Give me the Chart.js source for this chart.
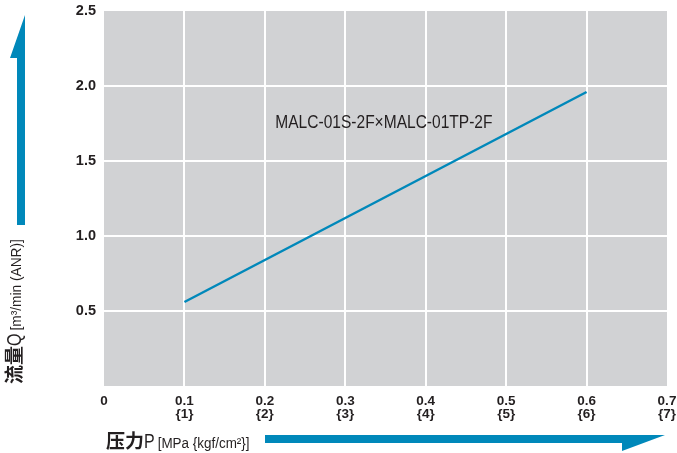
<!DOCTYPE html>
<html>
<head>
<meta charset="utf-8">
<script src="https://cdn.jsdelivr.net/npm/chart.js@4/dist/chart.umd.min.js"></script>
<style>
  html, body { margin: 0; padding: 0; background: #ffffff; }
  #wrap { position: relative; width: 677px; height: 453px; }
</style>
</head>
<body>
<div id="wrap"><canvas id="flowChart" width="677" height="453"></canvas></div>
<script>
const pressure = [0.1, 0.2, 0.3, 0.4, 0.5, 0.6];
const flow = [0.56, 0.84, 1.12, 1.40, 1.68, 1.96];
const seriesName = "MALC-01S-2F×MALC-01TP-2F";
const xTickLabels = ["0", "0.1|{1}", "0.2|{2}", "0.3|{3}", "0.4|{4}", "0.5|{5}", "0.6|{6}", "0.7|{7}"];
const yTickLabels = ["", "0.5", "1.0", "1.5", "2.0", "2.5"];

const blue = "#0088ba";
const textFont = "'Liberation Sans', Arial, sans-serif";
const cjkFont = "'Noto Sans CJK SC', sans-serif";

// draw text squeezed horizontally (condensed look)
function narrowText(ctx, str, x, y, sx) {
  ctx.save();
  ctx.translate(x, y);
  ctx.scale(sx, 1);
  ctx.fillText(str, 0, 0);
  ctx.restore();
  return ctx.measureText(str).width * sx;
}

// keep the plot box fixed: ignore label overhang
function noOverhang(scale) {
  scale.paddingTop = 0;
  scale.paddingBottom = 0;
  scale.paddingLeft = 0;
  scale.paddingRight = 0;
}

// gray plot background, arrows, axis titles and series label
const decorPlugin = {
  id: "decor",
  beforeDraw(chart) {
    const { ctx, chartArea: a } = chart;
    ctx.save();
    ctx.fillStyle = "#d1d2d4";
    ctx.fillRect(a.left, a.top, a.right - a.left, a.bottom - a.top);
    ctx.restore();
  },
  afterDraw(chart) {
    const { ctx } = chart;
    ctx.save();
    ctx.fillStyle = blue;

    // vertical arrow
    ctx.beginPath();
    ctx.moveTo(17, 225);
    ctx.lineTo(25, 225);
    ctx.lineTo(25, 15);
    ctx.lineTo(10, 58);
    ctx.lineTo(17, 58);
    ctx.closePath();
    ctx.fill();

    // horizontal arrow
    ctx.beginPath();
    ctx.moveTo(265, 435);
    ctx.lineTo(665, 435);
    ctx.lineTo(622, 451);
    ctx.lineTo(622, 443);
    ctx.lineTo(265, 443);
    ctx.closePath();
    ctx.fill();

    ctx.fillStyle = "#231f20";
    ctx.textBaseline = "alphabetic";
    ctx.textAlign = "left";

    // x title
    let x = 106;
    ctx.font = "bold 19px " + cjkFont;
    ctx.fillText("压力", x, 448);
    x += ctx.measureText("压力").width;
    ctx.font = "20px " + textFont;
    x += narrowText(ctx, "P", x, 448, 0.8);
    ctx.font = "14px " + textFont;
    narrowText(ctx, "[MPa {kgf/cm²}]", x + 3, 448, 0.96);

    // y title
    ctx.translate(21, 384);
    ctx.rotate(-Math.PI / 2);
    x = 0;
    ctx.font = "bold 19px " + cjkFont;
    ctx.fillText("流量", x, 0);
    x += ctx.measureText("流量").width;
    ctx.font = "20px " + textFont;
    x += narrowText(ctx, "Q", x, 0, 0.8);
    ctx.font = "14px " + textFont;
    narrowText(ctx, "[m³/min (ANR)]", x + 3, 0, 0.98);
    ctx.setTransform(1, 0, 0, 1, 0, 0);

    // series label
    const xs = chart.scales.x, ys = chart.scales.y;
    ctx.font = "18.5px " + textFont;
    narrowText(ctx, seriesName, xs.getPixelForValue(0.213), ys.getPixelForValue(1.718), 0.84);
    ctx.restore();
  }
};

new Chart(document.getElementById("flowChart"), {
  type: "line",
  data: {
    datasets: [{
      label: seriesName,
      data: pressure.map((p, i) => ({ x: p, y: flow[i] })),
      borderColor: blue,
      borderWidth: 2.5,
      pointRadius: 0,
      fill: false,
      tension: 0,
    }],
  },
  options: {
    responsive: false,
    animation: false,
    layout: { padding: { top: 11, right: 10, left: 0, bottom: 0 } },
    plugins: { legend: { display: false }, tooltip: { enabled: false } },
    scales: {
      x: {
        type: "linear",
        min: 0,
        max: 0.7,
        afterFit(scale) {
          scale.height = 67;
          noOverhang(scale);
        },
        afterBuildTicks(scale) {
          scale.ticks = xTickLabels.map((_, i) => ({ value: i / 10 }));
        },
        ticks: {
          autoSkip: false,
          maxRotation: 0,
          padding: 9,
          color: "#231f20",
          font: { family: textFont, size: 13.5, weight: "bold", lineHeight: 0.95 },
          callback: (v, i) => xTickLabels[i].split("|"),
        },
        grid: {
          drawTicks: false,
          lineWidth: 2,
          color: (c) => (c.index === 0 || c.index === xTickLabels.length - 1 ? "rgba(0,0,0,0)" : "#ffffff"),
        },
        border: { display: false },
      },
      y: {
        min: 0,
        max: 2.5,
        afterFit(scale) {
          scale.width = 104;
          noOverhang(scale);
        },
        afterBuildTicks(scale) {
          scale.ticks = yTickLabels.map((_, i) => ({ value: i * 0.5 }));
        },
        ticks: {
          padding: 8,
          color: "#231f20",
          font: { family: textFont, size: 14.5, weight: "bold" },
          callback: (v, i) => yTickLabels[i],
        },
        grid: {
          drawTicks: false,
          lineWidth: 2,
          color: (c) => (c.index === 0 || c.index === yTickLabels.length - 1 ? "rgba(0,0,0,0)" : "#ffffff"),
        },
        border: { display: false },
      },
    },
  },
  plugins: [decorPlugin],
});
</script>
</body>
</html>
